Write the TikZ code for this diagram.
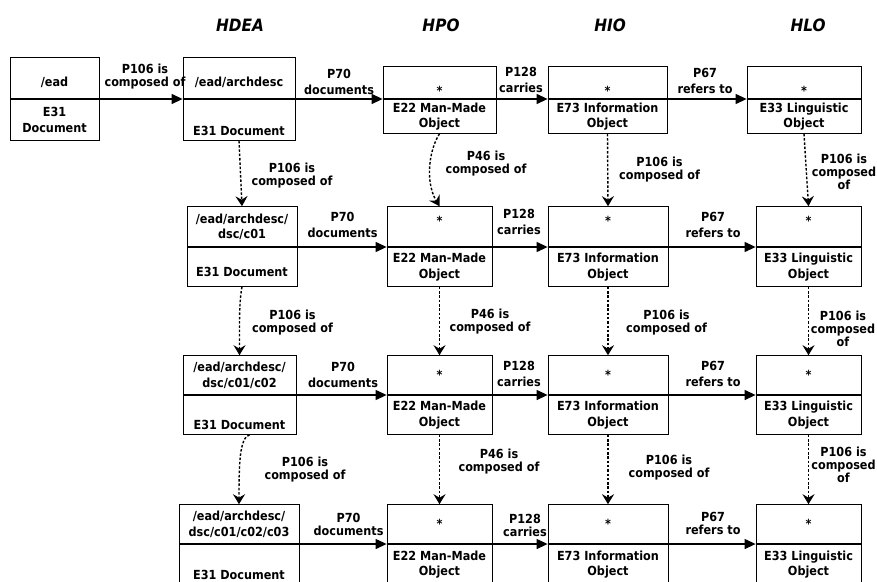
\documentclass[tikz,border=0pt]{standalone}
\usepackage{fontspec}
\setmainfont{DejaVu Sans}[FakeStretch=0.9]
\usetikzlibrary{arrows.meta}
\tikzset{
  part/.style={draw, line width=0.8pt, align=center, inner sep=2pt, font=\bfseries\fontsize{12.5}{15.5}\selectfont},
  upper/.style={part, anchor=south},
  lower/.style={part, anchor=north},
  rel/.style={line width=1.2pt, -{Triangle[length=11pt,width=10pt]}},
  dep/.style={line width=1.4pt, dash pattern=on 2.5pt off 1.8pt, -{Stealth[length=10pt,width=12pt,inset=3.5pt]}},
  hlab/.style={align=center, font=\bfseries\fontsize{12.5}{16}\selectfont},
  vlab/.style={align=center, font=\bfseries\fontsize{12.5}{13}\selectfont},
  layer/.style={font=\bfseries\itshape\fontsize{17}{19}\selectfont}
}
\begin{document}
\begin{tikzpicture}[x=1pt,y=-1pt]
\useasboundingbox (0,0) rectangle (877,581);
\node[layer] (hdea) at (240,25) {HDEA};
\node[layer] (hpo) at (441,25) {HPO};
\node[layer] (hio) at (610,25) {HIO};
\node[layer] (hlo) at (808,25) {HLO};

\node[upper, minimum width=89pt, minimum height=41pt, text height=18pt] (eadT) at (54.5,99) {/ead};
\node[lower, minimum width=89pt, minimum height=41pt] (eadB) at (54.5,99) {E31\\Document};
\node[upper, minimum width=112pt, minimum height=41pt, text height=18pt] (doc1T) at (239,99) {/ead/archdesc};
\node[lower, minimum width=112pt, minimum height=41pt, text height=32pt] (doc1B) at (239,99) {E31 Document};
\node[upper, minimum width=113pt, minimum height=32pt, text height=26pt] (po1T) at (439.5,99) {*};
\node[lower, minimum width=113pt, minimum height=34pt] (po1B) at (439.5,99) {E22 Man-Made\\Object};
\node[upper, minimum width=119pt, minimum height=32pt, text height=26pt] (io1T) at (607.5,99) {*};
\node[lower, minimum width=119pt, minimum height=34pt] (io1B) at (607.5,99) {E73 Information\\Object};
\node[upper, minimum width=114pt, minimum height=32pt, text height=26pt] (lo1T) at (804,99) {*};
\node[lower, minimum width=114pt, minimum height=34pt] (lo1B) at (804,99) {E33 Linguistic\\Object};

\node[upper, minimum width=110pt, minimum height=40pt] (doc2T) at (242,247) {/ead/archdesc/\\dsc/c01};
\node[lower, minimum width=110pt, minimum height=39pt, text height=19pt] (doc2B) at (242,247) {E31 Document};
\node[upper, minimum width=105pt, minimum height=40pt, text depth=12pt] (po2T) at (439.5,247) {*};
\node[lower, minimum width=105pt, minimum height=39pt] (po2B) at (439.5,247) {E22 Man-Made\\Object};
\node[upper, minimum width=120pt, minimum height=40pt, text depth=12pt] (io2T) at (608,247) {*};
\node[lower, minimum width=120pt, minimum height=39pt] (io2B) at (608,247) {E73 Information\\Object};
\node[upper, minimum width=105pt, minimum height=40pt, text depth=12pt] (lo2T) at (808.5,247) {*};
\node[lower, minimum width=105pt, minimum height=39pt] (lo2B) at (808.5,247) {E33 Linguistic\\Object};

\node[upper, minimum width=113pt, minimum height=39pt] (doc3T) at (239.5,395) {/ead/archdesc/\\dsc/c01/c02};
\node[lower, minimum width=113pt, minimum height=39pt, text height=30pt] (doc3B) at (239.5,395) {E31 Document};
\node[upper, minimum width=105pt, minimum height=39pt] (po3T) at (439.5,395) {*};
\node[lower, minimum width=105pt, minimum height=39pt] (po3B) at (439.5,395) {E22 Man-Made\\Object};
\node[upper, minimum width=120pt, minimum height=39pt] (io3T) at (608,395) {*};
\node[lower, minimum width=120pt, minimum height=39pt] (io3B) at (608,395) {E73 Information\\Object};
\node[upper, minimum width=105pt, minimum height=39pt] (lo3T) at (808.5,395) {*};
\node[lower, minimum width=105pt, minimum height=39pt] (lo3B) at (808.5,395) {E33 Linguistic\\Object};

\node[upper, minimum width=120pt, minimum height=39pt] (doc4T) at (239,544) {/ead/archdesc/\\dsc/c01/c02/c03};
\node[lower, minimum width=120pt, minimum height=40pt, text height=30pt] (doc4B) at (239,544) {E31 Document};
\node[upper, minimum width=105pt, minimum height=39pt] (po4T) at (439.5,544) {*};
\node[lower, minimum width=105pt, minimum height=40pt] (po4B) at (439.5,544) {E22 Man-Made\\Object};
\node[upper, minimum width=120pt, minimum height=39pt] (io4T) at (608,544) {*};
\node[lower, minimum width=120pt, minimum height=40pt] (io4B) at (608,544) {E73 Information\\Object};
\node[upper, minimum width=105pt, minimum height=39pt] (lo4T) at (808.5,544) {*};
\node[lower, minimum width=105pt, minimum height=40pt] (lo4B) at (808.5,544) {E33 Linguistic\\Object};

\draw[rel] (eadT.south east) -- (doc1T.south west);
\draw[rel] (doc1T.south east) -- (po1T.south west);
\draw[rel] (po1T.south east) -- (io1T.south west);
\draw[rel] (io1T.south east) -- (lo1T.south west);
\draw[rel] (doc2T.south east) -- (po2T.south west);
\draw[rel] (po2T.south east) -- (io2T.south west);
\draw[rel] (io2T.south east) -- (lo2T.south west);
\draw[rel] (doc3T.south east) -- (po3T.south west);
\draw[rel] (po3T.south east) -- (io3T.south west);
\draw[rel] (io3T.south east) -- (lo3T.south west);
\draw[rel] (doc4T.south east) -- (po4T.south west);
\draw[rel] (po4T.south east) -- (io4T.south west);
\draw[rel] (io4T.south east) -- (lo4T.south west);

\node[vlab] (c01) at (145,76.5) {P106 is\\composed of};
\node[hlab] (d1) at (339,82) {P70\\documents};
\node[hlab] (k1) at (521,79.5) {P128\\carries};
\node[hlab] (r1) at (705,80.5) {P67\\refers to};
\node[hlab] (d2) at (342.5,225) {P70\\documents};
\node[hlab] (k2) at (519,222) {P128\\carries};
\node[hlab] (r2) at (713,225) {P67\\refers to};
\node[hlab] (d3) at (343,374.5) {P70\\documents};
\node[hlab] (k3) at (519,374) {P128\\carries};
\node[hlab] (r3) at (713,374) {P67\\refers to};
\node[vlab] (d4) at (348.5,524) {P70\\documents};
\node[vlab] (k4) at (525,525) {P128\\carries};
\node[vlab] (r4) at (713,523) {P67\\refers to};

\draw[dep] (doc1B.south) -- (doc2T.north);
\draw[dep] (doc2B.south) .. controls +(-3,15) and +(0,-30) .. (doc3T.north);
\draw[dep] ([xshift=10pt]doc3B.south) .. controls +(-10,3) and +(0,-40) .. (doc4T.north);
\draw[dep] (po1B.south) .. controls +(-10,15) and +(-15,-25) .. (po2T.north);
\draw[dep] (po2B.south) -- (po3T.north);
\draw[dep] (po3B.south) -- (po4T.north);
\draw[dep] (io1B.south) -- (io2T.north);
\draw[dep] (io2B.south) -- (io3T.north);
\draw[dep] (io3B.south) -- (io4T.north);
\draw[dep] (lo1B.south) -- (lo2T.north);
\draw[dep] (lo2B.south) -- (lo3T.north);
\draw[dep] (lo3B.south) -- (lo4T.north);

\node[vlab] (dc1) at (292,176) {P106 is\\composed of};
\node[vlab] (dc2) at (292.5,323) {P106 is\\composed of};
\node[vlab] (dc3) at (305,470) {P106 is\\composed of};
\node[vlab] (pc1) at (486,164) {P46 is\\composed of};
\node[vlab] (pc2) at (490,322) {P46 is\\composed of};
\node[vlab] (pc3) at (499,462) {P46 is\\composed of};
\node[vlab] (ic1) at (659.5,169.5) {P106 is\\composed of};
\node[vlab] (ic2) at (666.5,323) {P106 is\\composed of};
\node[vlab] (ic3) at (669,467.5) {P106 is\\composed of};
\node[vlab] (lc1) at (844,171.5) {P106 is\\composed\\of};
\node[vlab] (lc2) at (843,329) {P106 is\\composed\\of};
\node[vlab] (lc3) at (843.5,465) {P106 is\\composed\\of};
\end{tikzpicture}
\end{document}
